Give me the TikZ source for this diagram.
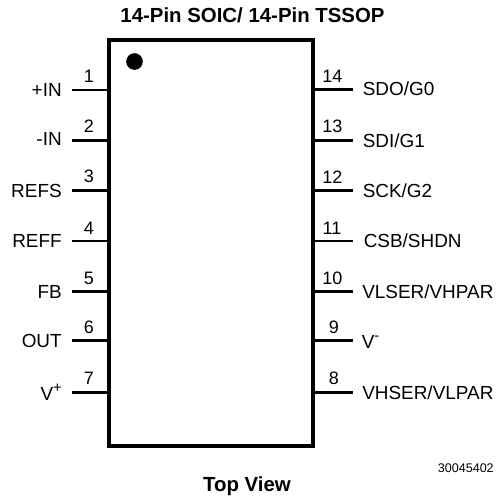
\documentclass[tikz,border=0pt]{standalone}
\usepackage{fontspec}
\setmainfont{Liberation Sans}
\usepackage{tikz}
\tikzset{
  pinline/.style={line width=1.9pt},
  pinnum/.style={inner sep=0.75pt,font=\fontsize{13.5}{15}\selectfont},
  pinname/.style={inner sep=0.75pt,font=\fontsize{14.2}{16}\selectfont},
  headtext/.style={inner sep=0.75pt,font=\fontsize{15.3}{17}\selectfont\bfseries}
}
\begin{document}
\begin{tikzpicture}[x=0.75pt,y=0.75pt,yscale=-1,xscale=1]
\useasboundingbox (0,0) rectangle (496,501);

%Shape: Rectangle
\node (body) [draw,line width=3pt,minimum width=153pt,minimum height=304.5pt,inner sep=0pt] at (211,242.5) {};
%Shape: Circle
\node (dot) [circle,fill=black,inner sep=0pt,minimum size=12.5pt] at (134.5,61.5) {};

%Left Pins
\coordinate (p1) at (72,90);
\coordinate (p2) at (72,140.3);
\coordinate (p3) at (72,190.7);
\coordinate (p4) at (72,241);
\coordinate (p5) at (72,291.7);
\coordinate (p6) at (72,340.5);
\coordinate (p7) at (72,392.7);
\draw [pinline] (p1) -- (p1 -| body.west);
\draw [pinline] (p2) -- (p2 -| body.west);
\draw [pinline] (p3) -- (p3 -| body.west);
\draw [pinline] (p4) -- (p4 -| body.west);
\draw [pinline] (p5) -- (p5 -| body.west);
\draw [pinline] (p6) -- (p6 -| body.west);
\draw [pinline] (p7) -- (p7 -| body.west);

%Right Pins
\coordinate (p14) at (353,89.3);
\coordinate (p13) at (353,140.3);
\coordinate (p12) at (353,190.7);
\coordinate (p11) at (353,241);
\coordinate (p10) at (353,291.7);
\coordinate (p9) at (353,340.5);
\coordinate (p8) at (353,392.7);
\draw [pinline] (p14) -- (p14 -| body.east);
\draw [pinline] (p13) -- (p13 -| body.east);
\draw [pinline] (p12) -- (p12 -| body.east);
\draw [pinline] (p11) -- (p11 -| body.east);
\draw [pinline] (p10) -- (p10 -| body.east);
\draw [pinline] (p9) -- (p9 -| body.east);
\draw [pinline] (p8) -- (p8 -| body.east);

% Text Node
\node (title) [headtext] at (252.5,15.5) {14-Pin SOIC/ 14-Pin TSSOP};
\node (topview) [headtext] at (247,486) {Top View};
\node (partno) [inner sep=0.75pt,anchor=east,font=\fontsize{9.4}{11}\selectfont] at (495,468) {30045402};

% Pin Numbers
\node (n1) [pinnum] at (89,76.5) {1};
\node (n2) [pinnum] at (89,126.5) {2};
\node (n3) [pinnum] at (89,176.5) {3};
\node (n4) [pinnum] at (89,228) {4};
\node (n5) [pinnum] at (89,278) {5};
\node (n6) [pinnum] at (89,327) {6};
\node (n7) [pinnum] at (89,378) {7};
\node (n14) [pinnum] at (332.5,76) {14};
\node (n13) [pinnum] at (332.5,126) {13};
\node (n12) [pinnum] at (332.5,177.5) {12};
\node (n11) [pinnum] at (332,228) {11};
\node (n10) [pinnum] at (332.5,278) {10};
\node (n9) [pinnum] at (334,327) {9};
\node (n8) [pinnum] at (334,378) {8};

% Pin Names
\node (s1) [pinname,anchor=east] at (63,90) {+IN};
\node (s2) [pinname,anchor=east] at (63,138.5) {-IN};
\node (s3) [pinname,anchor=east] at (63,190.7) {REFS};
\node (s4) [pinname,anchor=east] at (63,240.7) {REFF};
\node (s5) [pinname,anchor=east] at (63,291.7) {FB};
\node (s6) [pinname,anchor=east] at (63,341) {OUT};
\node (s7) [pinname,anchor=base east] at (63,400) {V\raisebox{5.5pt}{\fontsize{11}{13}\selectfont +}};
\node (s14) [pinname,anchor=west] at (361.5,89) {SDO/G0};
\node (s13) [pinname,anchor=west] at (361.5,140.5) {SDI/G1};
\node (s12) [pinname,anchor=west] at (361.5,190.5) {SCK/G2};
\node (s11) [pinname,anchor=west] at (362.5,241) {CSB/SHDN};
\node (s10) [pinname,anchor=west] at (361,291.7) {VLSER/VHPAR};
\node (s9) [pinname,anchor=base west] at (360.5,348) {V\raisebox{5.5pt}{\fontsize{11}{13}\selectfont -}};
\node (s8) [pinname,anchor=west] at (361,392.7) {VHSER/VLPAR};
\end{tikzpicture}
\end{document}
